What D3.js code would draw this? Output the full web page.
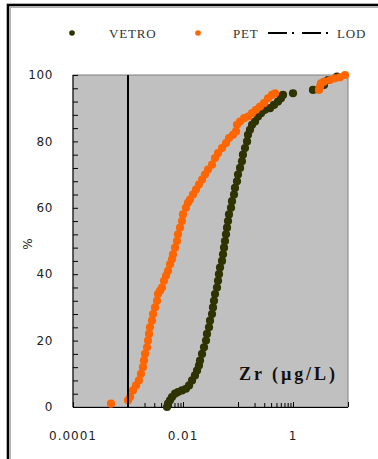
<!DOCTYPE html>
<html><head><meta charset="utf-8">
<script src="https://cdn.jsdelivr.net/npm/d3@7"></script>
<style>body{margin:0;background:#fff}svg{display:block}</style>
</head><body>
<svg id="c" width="378" height="459"></svg>
<script>
// ---- data ----
const petConc = [0.00049,0.00100,0.00109,0.00123,0.00140,0.00158,0.00172,0.00187,0.00195,0.00204,0.00222,0.00231,0.00241,0.00251,0.00273,0.00285,0.00310,0.00337,0.00351,0.00382,0.00415,0.00451,0.00491,0.00534,0.00580,0.00631,0.00658,0.00716,0.00778,0.00811,0.00882,0.00959,0.0100,0.0113,0.0123,0.0134,0.0152,0.0172,0.0195,0.0222,0.0251,0.0285,0.0337,0.0382,0.0433,0.0512,0.0605,0.0686,0.0811,0.0920,0.0959,0.109,0.129,0.152,0.180,0.212,0.251,0.297,0.351,0.415,0.471,2.97,3.10,3.23,3.66,4.71,5.80,7.16,8.82];
const petPct = [1,2,3,5,6.5,8,10,12,14,16,18,20,22,24,26,28,30,32,34,35,36,38,39.5,41,43,44.5,46,48,50,52,54,56,58,60,61.5,62.5,64,65.5,67,68.5,70,71.5,73,75,76.5,78,79.5,81,82,83,85,86,87,87.5,88.5,89.5,90.5,91.5,93,94,94.5,95.5,96.5,97.5,98,98.5,99,99.3,100];
const vetroConc = [0.00512,0.00534,0.00580,0.00631,0.00716,0.00811,0.00959,0.0113,0.0129,0.0146,0.0165,0.0180,0.0195,0.0204,0.0222,0.0241,0.0262,0.0273,0.0297,0.0310,0.0337,0.0351,0.0366,0.0382,0.0415,0.0433,0.0451,0.0471,0.0512,0.0534,0.0557,0.0580,0.0605,0.0631,0.0658,0.0686,0.0746,0.0778,0.0846,0.0882,0.0959,0.100,0.109,0.118,0.123,0.134,0.146,0.152,0.165,0.180,0.204,0.231,0.262,0.310,0.382,0.451,0.534,0.605,0.658,1.00,2.31,3.66,4.33,6.31];
const vetroPct = [0,1,2,3,4,4.5,5,5.5,6.5,8,9.5,11,12.5,14,16,18,20,22,24,26,28,30,32,34,36,38,40,42,44,46,48,50,52,54,56,58,60,62,64,66,68,70,72,74,76,78,80,82,83.5,85,86,87.5,88.5,89.5,90,91,92,93,94,94.5,95.5,97,98.5,99.5];
const lod = 0.001;
const xTickValues = [0.0001, 0.01, 1];
const xTickLabels = ["0.0001", "0.01", "1"];
const yTickLabels = [0, 20, 40, 60, 80, 100];
const seriesNames = ["VETRO", "PET", "LOD"];
const colors = {VETRO: "#2f3300", PET: "#ff6600", LOD: "#000"};

// ---- layout ----
const svg = d3.select("#c");
const L = 73, R = 348, T = 75, B = 407;
const x = d3.scaleLog().domain([1e-4, 10]).range([L, R]);
const y = d3.scaleLinear().domain([0, 100]).range([B, T]);

// outer frame
svg.append("rect").attr("x", 8).attr("y", 5).attr("width", 400).attr("height", 480)
  .attr("fill", "none").attr("stroke", "#000").attr("stroke-width", 2.6);
svg.append("rect").attr("x", 10.5).attr("y", 7.5).attr("width", 400).attr("height", 480)
  .attr("fill", "none").attr("stroke", "#b0b0b0").attr("stroke-width", 1);

// plot area
svg.append("rect").attr("x", L).attr("y", T).attr("width", R - L).attr("height", B - T)
  .attr("fill", "#c0c0c0").attr("stroke", "#808080").attr("stroke-width", 1);

// axes
const yAxis = d3.axisRight(y).tickValues(d3.range(0, 101, 4)).tickSize(5).tickFormat("");
const gy = svg.append("g").attr("transform", `translate(${L},0)`).call(yAxis);
gy.select(".domain").remove();
gy.selectAll("line").attr("stroke", "#000");

const majors = [1e-4, 1e-3, 1e-2, 1e-1, 1, 10];
const minors = [];
[0.001, 0.1].forEach(b => { for (let k = 2; k <= 9; k++) minors.push(b * k); });
const gxMaj = svg.append("g").attr("transform", `translate(0,${B})`)
  .call(d3.axisTop(x).tickValues(majors).tickSize(5).tickFormat(""));
gxMaj.select(".domain").remove();
gxMaj.selectAll("line").attr("stroke", "#000");
const gxMin = svg.append("g").attr("transform", `translate(0,${B})`)
  .call(d3.axisTop(x).tickValues(minors).tickSize(4).tickFormat(""));
gxMin.select(".domain").remove();
gxMin.selectAll("line").attr("stroke", "#000");

svg.append("line").attr("x1", L).attr("x2", L).attr("y1", T).attr("y2", B).attr("stroke", "#000");
svg.append("line").attr("x1", L).attr("x2", R).attr("y1", B + 0.5).attr("y2", B + 0.5).attr("stroke", "#000");

// tick labels
const lblFont = "'DejaVu Sans', sans-serif";
svg.append("g").selectAll("text").data(yTickLabels).join("text")
  .attr("x", 53).attr("y", d => y(d)).attr("dy", "0.35em")
  .attr("text-anchor", "end").attr("font-family", lblFont).attr("font-size", 12)
  .attr("letter-spacing", 0.6).attr("fill", "#222").text(d => d);
svg.append("g").selectAll("text").data(xTickValues).join("text")
  .attr("x", d => x(d)).attr("y", 440)
  .attr("text-anchor", "middle").attr("font-family", lblFont).attr("font-size", 12)
  .attr("letter-spacing", 1).attr("fill", "#222").text((d, i) => xTickLabels[i]);

// y label
svg.append("text").attr("transform", "translate(32,244) rotate(-90)")
  .attr("text-anchor", "middle").attr("font-family", lblFont).attr("font-size", 12)
  .attr("fill", "#222").text("%");

// series
const vetro = vetroConc.map((c, i) => ({c, p: vetroPct[i]}));
const pet = petConc.map((c, i) => ({c, p: petPct[i]}));
svg.append("g").selectAll("circle").data(vetro).join("circle")
  .attr("cx", d => x(d.c)).attr("cy", d => y(d.p)).attr("r", 4.1).attr("fill", colors.VETRO);
svg.append("g").selectAll("circle").data(pet).join("circle")
  .attr("cx", d => x(d.c)).attr("cy", d => y(d.p)).attr("r", 4.1).attr("fill", colors.PET);

// LOD line
svg.append("line").attr("x1", x(lod)).attr("x2", x(lod)).attr("y1", y(100)).attr("y2", y(0))
  .attr("stroke", colors.LOD).attr("stroke-width", 2);

// annotation
svg.append("text").attr("x", 239).attr("y", 380)
  .attr("font-family", "'Liberation Serif', 'Times New Roman', serif").attr("font-weight", "bold")
  .attr("font-size", 18).attr("textLength", 96).attr("lengthAdjust", "spacing")
  .attr("fill", "#111").text("Zr (µg/L)");

// legend
const legFont = "'Liberation Serif', 'Times New Roman', serif";
const lg = svg.append("g");
lg.append("circle").attr("cx", 72).attr("cy", 33).attr("r", 2.8).attr("fill", colors.VETRO);
lg.append("text").attr("x", 109).attr("y", 37.5).attr("font-family", legFont).attr("font-size", 13)
  .attr("letter-spacing", 0.8).attr("fill", "#333").text(seriesNames[0]);
lg.append("circle").attr("cx", 198).attr("cy", 33).attr("r", 2.8).attr("fill", colors.PET);
lg.append("text").attr("x", 233).attr("y", 37.5).attr("font-family", legFont).attr("font-size", 13)
  .attr("letter-spacing", 0.8).attr("fill", "#333").text(seriesNames[1]);
lg.append("line").attr("x1", 268).attr("x2", 332).attr("y1", 33).attr("y2", 33)
  .attr("stroke", colors.LOD).attr("stroke-width", 2).attr("stroke-dasharray", "19,5,2,8");
lg.append("text").attr("x", 337).attr("y", 37.5).attr("font-family", legFont).attr("font-size", 13)
  .attr("letter-spacing", 0.8).attr("fill", "#333").text(seriesNames[2]);
</script>
</body></html>
